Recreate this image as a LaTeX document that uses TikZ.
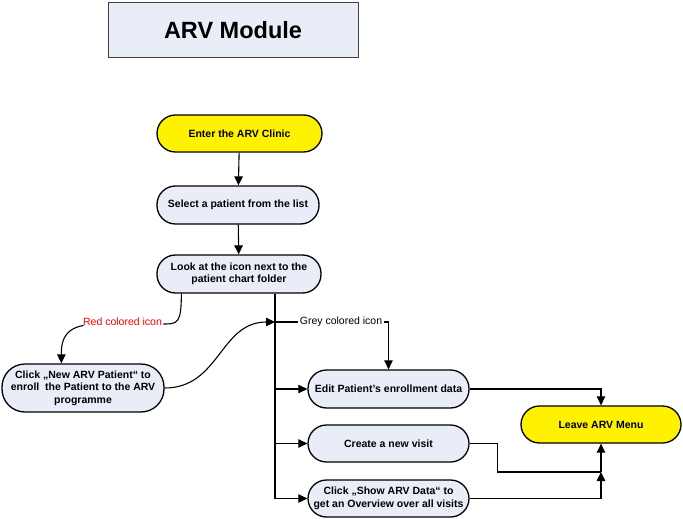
\documentclass[tikz,border=0pt]{standalone}
\usepackage{fontspec}
\setmainfont{Liberation Sans}
\usetikzlibrary{arrows.meta}
\definecolor{boxfill}{RGB}{233,237,247}
\begin{document}
\begin{tikzpicture}[x=1pt,y=-1pt,
    step box/.style={draw=black,line width=1.3pt,fill=boxfill,rounded corners=18.5pt,
      minimum width=161pt,minimum height=38pt,inner sep=1pt,align=center,
      font=\fontsize{10.5}{12.5}\selectfont\bfseries},
    end box/.style={step box,fill=yellow},
    arr/.style={-{Triangle[length=9pt,width=8.5pt]}},
    line width=1.1pt]

      \useasboundingbox (0,0) rectangle (683,519);

      % Judul
      \node[draw=black!75,line width=1pt,fill=boxfill,minimum width=250pt,minimum height=55pt,
        font=\fontsize{23.5}{26}\selectfont\bfseries] (title) at (233,30) {ARV Module};

      % Kotak langkah
      \node[end box,minimum width=165pt,minimum height=37pt] (enter) at (239.5,133.5) {Enter the ARV Clinic};
      \node[step box,minimum width=162pt] (select) at (238,205) {Select a patient from the list};
      \node[step box,minimum width=164pt] (look) at (239,274) {Look at the icon next to the\\patient chart folder};
      \node[step box,minimum width=162pt,minimum height=48pt,rounded corners=23pt] (newarv) at (83,388)
        {Click „New ARV Patient“ to\\enroll\ \ the Patient to the ARV\\programme};
      \node[step box] (edit) at (388.5,389) {Edit Patient’s enrollment data};
      \node[step box,minimum height=37pt] (visit) at (388.5,443.5) {Create a new visit};
      \node[step box,minimum height=37pt] (show) at (388.5,498.5) {Click „Show ARV Data“ to\\get an Overview over all visits};
      \node[end box,minimum width=160pt,minimum height=37pt] (leave) at (601,424.5) {Leave ARV Menu};

      % Label ikon
      \node[text=red,font=\fontsize{10.5}{12}\selectfont,inner sep=1pt] (redlbl) at (122.5,322) {Red colored icon};
      \node[font=\fontsize{10.5}{12}\selectfont,inner sep=1pt] (greylbl) at (341,322) {Grey colored icon};

      % Titik bantu
      \coordinate (tr) at (275,322);
      \coordinate (jn) at (601,472);

      % Panah utama
      \draw[arr] (enter) -- (select);
      \draw[arr] (select) -- (look);
      \draw ([xshift=25pt]look.south west) .. controls +(0,30) and +(14,0) .. ([yshift=-2pt]redlbl.east);
      \draw[arr] ([xshift=2pt,yshift=2pt]redlbl.south west) .. controls +(-22,4) and +(0,-18) .. ([xshift=60pt]newarv.north west);
      \draw[arr] (newarv.east) .. controls +(55,0) and +(-55,0) .. (tr);
      \draw (look.south -| tr) -- (tr |- show.west);
      \draw (tr) -- (greylbl.west);
      \draw[arr] (greylbl.east) -| (edit.north);
      \draw[arr] (tr |- edit.west) -- (edit.west);
      \draw[arr] (tr |- visit.west) -- (visit.west);
      \draw[arr] (tr |- show.west) -- (show.west);

      % Ke menu keluar
      \draw[arr] (edit.east) -| (leave.north);
      \draw (visit.east) -- ++(28,0) |- (jn);
      \draw[arr] (jn) -- (leave.south);
      \draw[arr] (show.east) -| (jn);

    \end{tikzpicture}
\end{document}
